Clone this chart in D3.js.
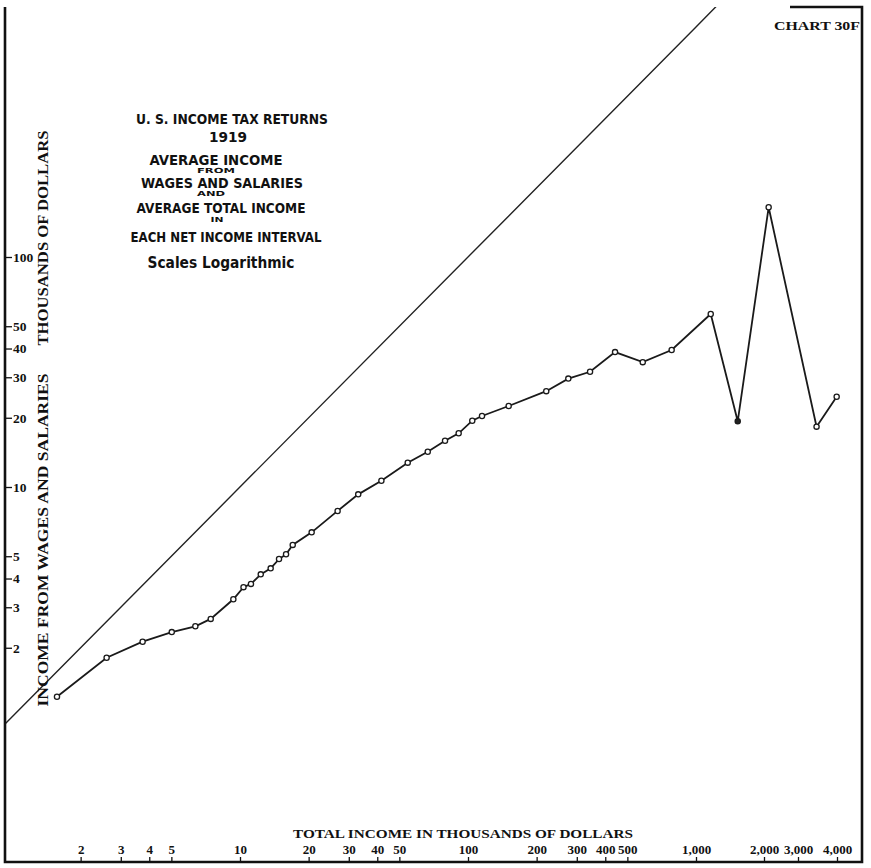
<!DOCTYPE html>
<html>
<head>
<meta charset="utf-8">
<script src="https://cdn.jsdelivr.net/npm/d3@7"></script>
<style>
body { margin: 0; background: #fff; }
svg { display: block; }
.serif { font-family: 'Liberation Serif', 'DejaVu Serif', serif; font-weight: bold; }
.hand { font-family: 'DejaVu Sans Condensed', 'DejaVu Sans', sans-serif; font-weight: bold; }
</style>
</head>
<body>
<div id="chart"></div>
<script>
// total income (thousands) and wage income (thousands) per net income interval
var totalIncome = [1.575, 2.60, 3.74, 5.02, 6.37, 7.44, 9.35, 10.36, 11.17, 12.33, 13.63, 14.83,
	15.92, 17.03, 20.62, 26.8, 33.0, 41.7, 54.4, 66.6, 79.3, 91.0, 104.4, 115.2, 150.8, 220.4,
	275.4, 343, 441.5, 584, 782, 1162, 1530, 2114, 3440, 3990];
var wageIncome = [1.225, 1.81, 2.125, 2.34, 2.48, 2.67, 3.25, 3.67, 3.79, 4.17, 4.43, 4.86,
	5.10, 5.60, 6.35, 7.87, 9.29, 10.65, 12.76, 14.24, 15.9, 17.12, 19.42, 20.36, 22.5, 26.1,
	29.6, 31.7, 38.6, 34.9, 39.4, 56.5, 19.3, 164.5, 18.3, 24.7];
var filledPoint = 32;

var xTicks = [2, 3, 4, 5, 10, 20, 30, 40, 50, 100, 200, 300, 400, 500, 1000, 2000, 3000, 4000];
var yTicks = [2, 3, 4, 5, 10, 20, 30, 40, 50, 100];

var titleLines = [
	{ text: 'U. S. INCOME TAX RETURNS', cx: 232, y: 124, size: 14, len: 192 },
	{ text: '1919', cx: 228, y: 142, size: 14, len: 38 },
	{ text: 'AVERAGE INCOME', cx: 216, y: 165, size: 13.5, len: 133 },
	{ text: 'FROM', cx: 216, y: 173, size: 7, len: 38 },
	{ text: 'WAGES AND SALARIES', cx: 222, y: 188, size: 13.5, len: 162 },
	{ text: 'AND', cx: 211, y: 196, size: 7, len: 28 },
	{ text: 'AVERAGE TOTAL INCOME', cx: 221, y: 213, size: 13.5, len: 169 },
	{ text: 'IN', cx: 217, y: 222, size: 7, len: 13 },
	{ text: 'EACH NET INCOME INTERVAL', cx: 226, y: 242, size: 13.5, len: 191 },
	{ text: 'Scales Logarithmic', cx: 221, y: 268, size: 16, len: 147 }
];

var data = totalIncome.map(function(t, i) { return { total: t, wage: wageIncome[i] }; });

var W = 871, H = 868;
var frameL = 5, frameR = 862, frameT = 7, frameB = 862;

var svg = d3.select('#chart').append('svg').attr('width', W).attr('height', H);

// the printed x scale is stretched a little past 1,000
var xScale = d3.scaleLog().domain([1, 1000, 2000, 3000, 4000]).range([12, 696, 764, 798, 837]);
var yScale = d3.scaleLog().domain([1, 100]).range([717, 257]);

svg.append('clipPath')
	.attr('id', 'clip')
	.append('rect')
	.attr('x', frameL).attr('y', frameT)
	.attr('width', frameR - frameL).attr('height', frameB - frameT);

// diagonal of equality
var diag = [0.5, 1000, 2000];
var diagLine = d3.line()
	.x(function(d) { return xScale(d); })
	.y(function(d) { return yScale(d); });

svg.append('path')
	.attr('clip-path', 'url(#clip)')
	.attr('d', diagLine(diag))
	.attr('fill', 'none')
	.attr('stroke', '#222')
	.attr('stroke-width', 1.4);

var line = d3.line()
	.x(function(d) { return xScale(d.total); })
	.y(function(d) { return yScale(d.wage); });

svg.append('path')
	.attr('d', line(data))
	.attr('fill', 'none')
	.attr('stroke', '#1a1a1a')
	.attr('stroke-width', 1.8);

svg.selectAll('circle.pt')
	.data(data)
	.enter().append('circle')
	.attr('class', 'pt')
	.attr('cx', function(d) { return xScale(d.total); })
	.attr('cy', function(d) { return yScale(d.wage); })
	.attr('r', 2.6)
	.attr('fill', function(d, i) { return i === filledPoint ? '#222' : '#fff'; })
	.attr('stroke', '#1a1a1a')
	.attr('stroke-width', 1.3);

// frame
svg.append('path')
	.attr('d', 'M' + frameL + ',' + frameT + 'V' + frameB + 'H' + frameR + 'V' + frameT + 'H790')
	.attr('fill', 'none')
	.attr('stroke', '#111')
	.attr('stroke-width', 2.6);

var xAxis = d3.axisTop(xScale)
	.tickValues(xTicks)
	.tickSize(5)
	.tickPadding(3)
	.tickFormat(d3.format(','));

var xAxisG = svg.append('g')
	.attr('transform', 'translate(0,' + frameB + ')')
	.call(xAxis);
xAxisG.select('.domain').remove();
xAxisG.selectAll('text').attr('font-size', 13).attr('fill', '#111')
	.attr('font-family', "'Liberation Serif', serif").attr('font-weight', 'bold');
xAxisG.selectAll('line').attr('stroke', '#111').attr('stroke-width', 1.3);

var yAxis = d3.axisRight(yScale)
	.tickValues(yTicks)
	.tickSize(7)
	.tickPadding(1)
	.tickFormat(d3.format('d'));

var yAxisG = svg.append('g')
	.attr('transform', 'translate(' + frameL + ',0)')
	.call(yAxis);
yAxisG.select('.domain').remove();
yAxisG.selectAll('text').attr('font-size', 13.5).attr('fill', '#111')
	.attr('font-family', "'Liberation Serif', serif").attr('font-weight', 'bold');
yAxisG.selectAll('line').attr('stroke', '#111').attr('stroke-width', 1.3);

// axis titles
svg.append('text')
	.attr('class', 'serif')
	.attr('x', 463).attr('y', 838)
	.attr('text-anchor', 'middle')
	.attr('font-size', 13)
	.attr('textLength', 340)
	.attr('lengthAdjust', 'spacingAndGlyphs')
	.attr('fill', '#111')
	.text('TOTAL INCOME IN THOUSANDS OF DOLLARS');

svg.append('text')
	.attr('class', 'serif')
	.attr('transform', 'translate(48,540) rotate(-90)')
	.attr('text-anchor', 'middle')
	.attr('font-size', 14)
	.attr('textLength', 333)
	.attr('lengthAdjust', 'spacingAndGlyphs')
	.attr('fill', '#111')
	.text('INCOME FROM WAGES AND SALARIES');

svg.append('text')
	.attr('class', 'serif')
	.attr('transform', 'translate(48,238) rotate(-90)')
	.attr('text-anchor', 'middle')
	.attr('font-size', 14)
	.attr('textLength', 215)
	.attr('lengthAdjust', 'spacingAndGlyphs')
	.attr('fill', '#111')
	.text('THOUSANDS OF DOLLARS');

svg.append('text')
	.attr('class', 'serif')
	.attr('x', frameR - 2).attr('y', 30)
	.attr('text-anchor', 'end')
	.attr('font-size', 13)
	.attr('textLength', 86)
	.attr('lengthAdjust', 'spacingAndGlyphs')
	.attr('fill', '#111')
	.text('CHART 30F');

svg.selectAll('text.title')
	.data(titleLines)
	.enter().append('text')
	.attr('class', 'title hand')
	.attr('x', function(d) { return d.cx; })
	.attr('y', function(d) { return d.y; })
	.attr('text-anchor', 'middle')
	.attr('font-size', function(d) { return d.size; })
	.attr('textLength', function(d) { return d.len; })
	.attr('lengthAdjust', 'spacingAndGlyphs')
	.attr('fill', '#111')
	.text(function(d) { return d.text; });
</script>
</body>
</html>
